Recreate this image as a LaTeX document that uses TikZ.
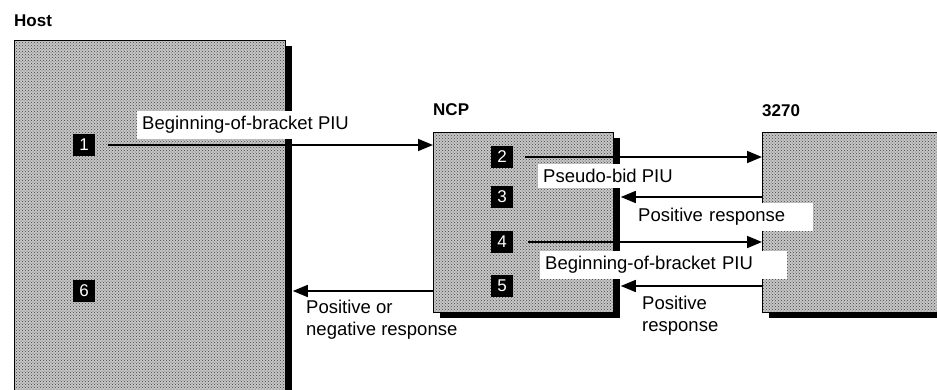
\documentclass[tikz,border=0pt]{standalone}
\usepackage{fontspec}
\setmainfont{Liberation Sans}
\usetikzlibrary{arrows.meta,shadows,patterns,positioning}

\tikzset{
  unit/.style={draw, line width=0.8pt, anchor=north west,
    drop shadow={shadow xshift=7pt, shadow yshift=-6pt, fill=black, opacity=1},
    preaction={fill=black!22}, pattern=crosshatch dots, pattern color=black!75},
  num/.style={fill=black, text=white, minimum size=22pt, inner sep=0pt,
    font=\fontsize{17}{17}\selectfont},
  msg/.style={line width=1.6pt, -{Triangle[length=15pt,width=12pt]}},
  note/.style={anchor=west, inner xsep=5pt, inner ysep=5pt, align=left,
    font=\fontsize{18.5}{22}\selectfont},
  cut/.style={note, fill=white},
  title/.style={anchor=west, inner sep=0pt, font=\bfseries\fontsize{17}{17}\selectfont}
}

\begin{document}
\begin{tikzpicture}[x=1pt,y=-1pt]
\useasboundingbox (0,0) rectangle (937,389);
\clip (0,0) rectangle (937,389);
% the three stations
\node[unit, minimum width=271pt, minimum height=380pt] (host) at (14,40) {};
\node[unit, minimum width=180pt, minimum height=180pt] (ncp) at (433,132) {};
\node[unit, minimum width=200pt, minimum height=180pt] (term) at (762,132) {};
\node[title] (hostname) at (14,21) {Host};
\node[title] (ncpname) at (433,110) {NCP};
\node[title] (termname) at (762,111) {3270};
% outer edges of the shadows
\coordinate (hostshadow) at ([xshift=7pt]host.east);
\coordinate (ncpshadow) at ([xshift=7pt]ncp.east);
% step numbers
\node[num] (n1) at (84,145) {1};
\node[num] (n6) at (84,291) {6};
\node[num] (n2) at (502,157) {2};
\node[num] (n3) at (502,197) {3};
\node[num] (n4) at (502,242) {4};
\node[num] (n5) at (502,286) {5};
% message labels
\node[cut] (bob1) at (137,125) {Beginning-of-bracket PIU};
\node[cut] (pbid) at (538,176) {Pseudo-bid PIU};
\node[cut, text width=170pt] (pos1) at (633,217) {Positive response};
\node[cut, text width=237pt] (bob2) at (540,265) {Beginning-of-bracket PIU};
\node[note] (pos2) at (637,316) {Positive\\response};
\node[note] (posneg) at (301,320) {Positive or\\negative response};
% messages
\draw[msg, shorten <=13pt] (n1.east) -- (n1 -| ncp.west);
\draw[msg, shorten <=12pt] (n2.east) -- (n2 -| term.west);
\draw[msg] (n3 -| term.west) -- (n3 -| ncpshadow);
\draw[msg, shorten <=15pt] (n4.east) -- (n4 -| term.west);
\draw[msg] (n5 -| term.west) -- (n5 -| ncpshadow);
\draw[msg] (n6 -| ncp.west) -- (n6 -| hostshadow);
\end{tikzpicture}
\end{document}
